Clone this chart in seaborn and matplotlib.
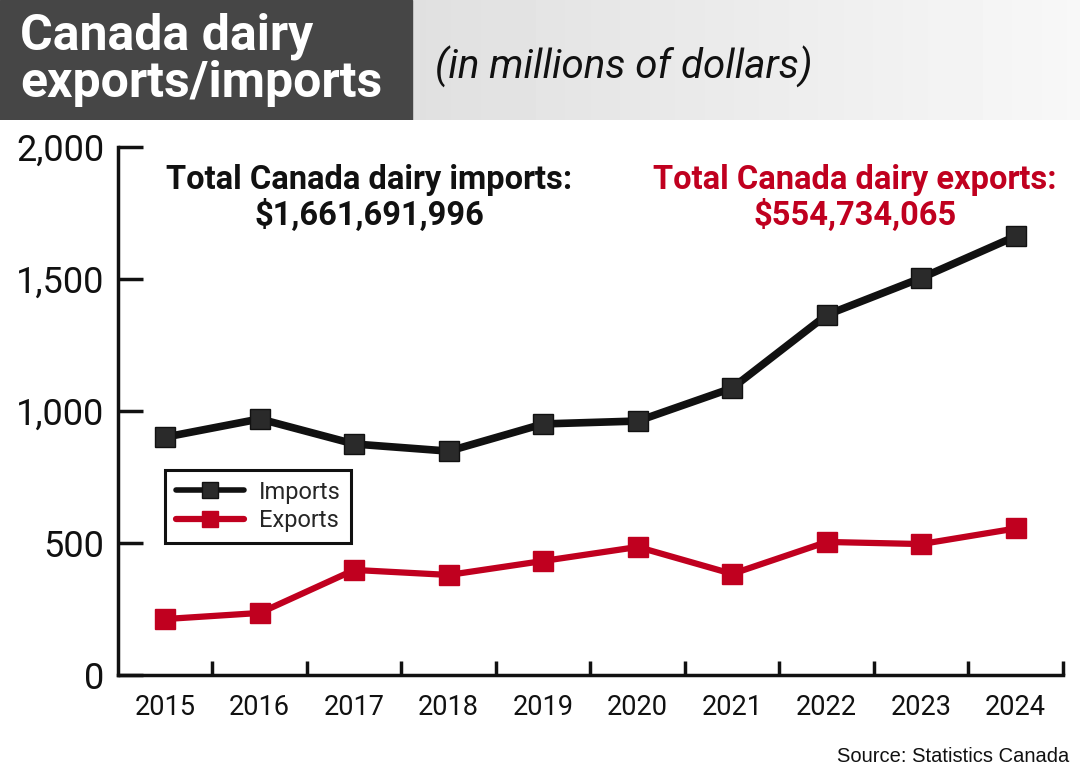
import numpy as np
import pandas as pd
import matplotlib
matplotlib.use("Agg")
import matplotlib.pyplot as plt
from matplotlib.patches import Rectangle
from matplotlib.ticker import FuncFormatter, FixedLocator
from matplotlib.lines import Line2D
import seaborn as sns

years = [2015, 2016, 2017, 2018, 2019, 2020, 2021, 2022, 2023, 2024]
imports = [901, 970, 875, 848, 951, 962, 1087, 1364, 1504, 1662]
exports = [212, 235, 398, 379, 432, 485, 383, 504, 496, 555]
series_names = ["Imports", "Exports"]
colors = {"Imports": "#111111", "Exports": "#C0001F"}
marker_face = {"Imports": "#2a2a2a", "Exports": "#C0001F"}
y_ticks = [0, 500, 1000, 1500, 2000]

title = "Canada dairy\nexports/imports"
subtitle = "(in millions of dollars)"
imp_note = "Total Canada dairy imports:\n$1,661,691,996"
exp_note = "Total Canada dairy exports:\n$554,734,065"
source = "Source: Statistics Canada"

df = pd.DataFrame({
    "year": years * 2,
    "value": imports + exports,
    "series": ["Imports"] * len(years) + ["Exports"] * len(years),
})

sns.set_theme(style="white")
plt.rcParams["font.family"] = ["Roboto", "DejaVu Sans"]

W, H = 1080, 777
fig = plt.figure(figsize=(W / 100, H / 100), dpi=100)
fig.patch.set_facecolor("white")

# header
hax = fig.add_axes([0, 1 - 120 / H, 1, 120 / H])
grad = np.linspace(0.82, 0.97, 256).reshape(1, -1)
hax.imshow(grad, cmap="gray", vmin=0, vmax=1, aspect="auto", extent=[0, 1, 0, 1])
hax.add_patch(Rectangle((0, 0), 412 / W, 1, color="#464646", zorder=2))
hax.set_xlim(0, 1)
hax.set_ylim(0, 1)
hax.axis("off")
hax.text(20 / W, 0.5, title, color="white", fontsize=36, fontweight="bold",
         ha="left", va="center", linespacing=1.0, zorder=3)
hax.text(435 / W, 0.44, subtitle, color="#111111", fontsize=29, fontstyle="italic",
         ha="left", va="center", zorder=3)

# main axes
ax = fig.add_axes([118 / W, 1 - 675 / H, 945 / W, 528 / H])
ax.set_facecolor("white")
for name in series_names:
    sub = df[df["series"] == name]
    sns.lineplot(data=sub, x="year", y="value", ax=ax, color=colors[name],
                 linewidth=5.5 if name == "Imports" else 4.5,
                 marker="s", markersize=15, markerfacecolor=marker_face[name],
                 markeredgecolor=colors[name] if name == "Exports" else "#111111",
                 markeredgewidth=1, label=name, legend=False, zorder=3)

ax.set_xlim(years[0] - 0.5, years[-1] + 0.5)
ax.set_ylim(0, 2000)
ax.set_xlabel("")
ax.set_ylabel("")
ax.xaxis.set_major_locator(FixedLocator(years))
ax.xaxis.set_minor_locator(FixedLocator([y + 0.5 for y in years]))
ax.tick_params(axis="x", which="major", length=0, labelsize=19.5, pad=14, colors="#111111")
ax.tick_params(axis="x", which="minor", direction="in", length=10, width=2.5, color="#111111", bottom=True)
ax.set_yticks(y_ticks)
ax.yaxis.set_major_formatter(FuncFormatter(lambda v, p: f"{int(v):,}"))
ax.tick_params(axis="y", direction="in", length=18, width=2.5, labelsize=26, pad=10,
               color="#111111", left=True, labelcolor="#111111")
for s in ["top", "right"]:
    ax.spines[s].set_visible(False)
for s in ["left", "bottom"]:
    ax.spines[s].set_linewidth(2.5)
    ax.spines[s].set_color("#111111")

# legend
handles = [Line2D([0], [0], color=colors[n], lw=4 if n == "Imports" else 4.5, marker="s",
                  markersize=12, markerfacecolor=marker_face[n], markeredgecolor=colors[n])
           for n in series_names]
leg = ax.legend(handles, series_names, loc="upper left", bbox_to_anchor=(0.05, 0.388),
                frameon=True, fancybox=False, fontsize=17, handlelength=2.9, framealpha=1,
                borderpad=0.45, labelspacing=0.22, handletextpad=0.6, borderaxespad=0)
leg.get_frame().set_edgecolor("#111111")
leg.get_frame().set_linewidth(2.2)

# annotations
ax.text((369 - 118) / 945, (675 - 198) / 528, imp_note, transform=ax.transAxes,
        ha="center", va="center", fontsize=23.5, fontweight="bold", color="#111111",
        linespacing=1.08)
ax.text((855 - 118) / 945, (675 - 198) / 528, exp_note, transform=ax.transAxes,
        ha="center", va="center", fontsize=23.5, fontweight="bold", color="#C0001F",
        linespacing=1.08)

fig.text(1069 / W, 1 - 757 / H, source, ha="right", va="center", fontsize=14.5,
         color="#111111", family=["Liberation Sans", "DejaVu Sans"])

fig.savefig("out.png", dpi=100, facecolor="white")
